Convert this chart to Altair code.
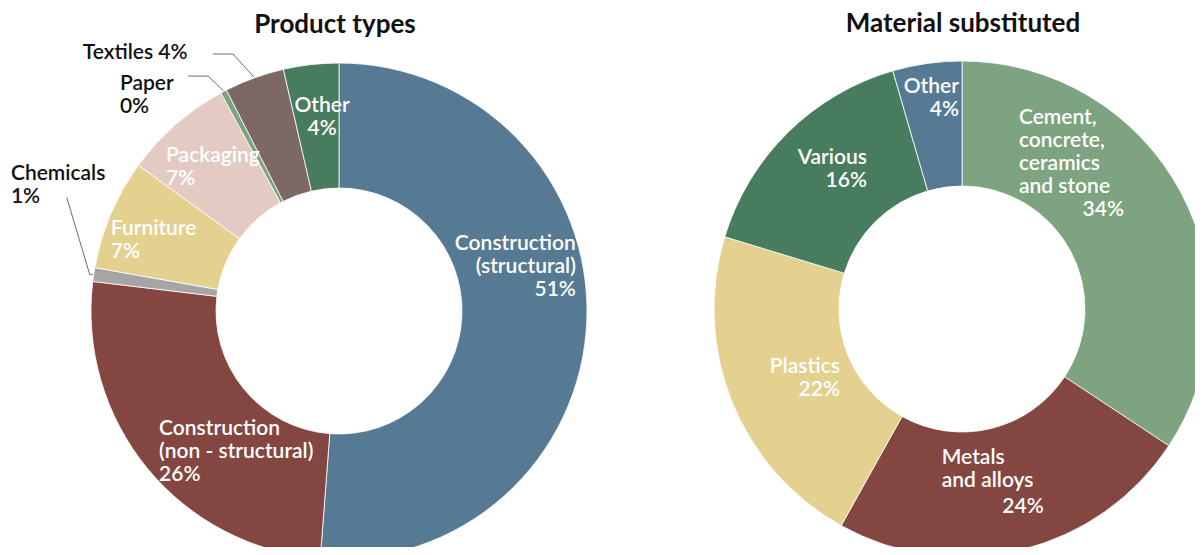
import altair as alt
import pandas as pd

# ---------------- data ----------------
product_keys = ["p0", "p1", "p2", "p3", "p4", "p5", "p6", "p7"]
product_names = ["Construction\n(structural)", "Construction\n(non - structural)", "Chemicals",
                 "Furniture", "Packaging", "Paper", "Textiles", "Other"]
product_values = [51.2, 25.7, 0.9, 7.2, 7.1, 0.4, 3.9, 3.6]
product_pcts = ["51%", "26%", "1%", "7%", "7%", "0%", "4%", "4%"]

material_keys = ["m0", "m1", "m2", "m3", "m4"]
material_names = ["Cement,\nconcrete,\nceramics\nand stone", "Metals\nand alloys", "Plastics", "Various", "Other"]
material_values = [34.3, 23.8, 21.6, 15.8, 4.5]
material_pcts = ["34%", "24%", "22%", "16%", "4%"]

# ---------------- styles ----------------
product_colors = ["#567A93", "#844641", "#A5A5A5", "#E4D08F", "#E3CBC4", "#7EA380", "#7D6865", "#477C5E"]
material_colors = ["#7EA381", "#844641", "#E4D08F", "#477C5E", "#567A93"]

FONT = "Lato"
WHITE = "#FFFFFF"
BLACK = "#111111"
LEADER = "#6B6B6B"
INNER, OUTER = 123, 248
LEFT_C = (331, 303)
RIGHT_C = (954, 301)
LH = 23


def frame(keys, names, values, pcts):
    return pd.DataFrame({
        "key": keys,
        "idx": list(range(len(keys))),
        "value": values,
        "name": names,
        "pct": pcts,
        "label": [n + "\n" + p for n, p in zip(names, pcts)],
        "inline": [n + " " + p for n, p in zip(names, pcts)],
    })


df_p = frame(product_keys, product_names, product_values, product_pcts)
df_m = frame(material_keys, material_names, material_values, material_pcts)


def donut(df, center, colors):
    return alt.Chart(df).mark_arc(
        innerRadius=INNER, outerRadius=OUTER, stroke="white", strokeWidth=0.8
    ).encode(
        theta=alt.Theta("value:Q", stack=True),
        order=alt.Order("idx:Q"),
        color=alt.Color("key:N", scale=alt.Scale(domain=list(df["key"]), range=colors), legend=None),
        x=alt.value(center[0]),
        y=alt.value(center[1]),
    )


def with_mid(df):
    return (
        alt.Chart(df)
        .transform_joinaggregate(total="sum(value)")
        .transform_window(cum="sum(value)", sort=[alt.SortField("idx", order="ascending")], frame=[None, 0])
        .transform_calculate(mid="2*PI*(datum.cum - datum.value/2)/datum.total")
    )


def label(df, center, key, field, r, dx, dy, align, color):
    text = df.loc[df["key"] == key, field].iloc[0]
    dy = dy - text.count("\n") * LH / 2  # centre multi-line blocks
    return (
        with_mid(df)
        .transform_filter(alt.datum.key == key)
        .mark_text(
            radius=r, dx=dx, dy=dy, align=align, baseline="middle", font=FONT,
            fontSize=21, fontWeight=600, lineHeight=LH, color=color, lineBreak="\n",
        )
        .encode(
            theta=alt.Theta("mid:Q", scale=None, stack=None),
            x=alt.value(center[0]),
            y=alt.value(center[1]),
            text=alt.Text(f"{field}:N"),
        )
    )


def leader(df, center, key, r0, ex, ey, hx, hy):
    cx, cy = center
    base = (
        with_mid(df)
        .transform_filter(alt.datum.key == key)
        .transform_calculate(
            x0=f"{cx} + {r0}*sin(datum.mid)",
            y0=f"{cy} - {r0}*cos(datum.mid)",
        )
        .transform_calculate(x1=f"datum.x0 + ({ex})", y1=f"datum.y0 + ({ey})")
        .transform_calculate(x2=f"datum.x1 + ({hx})", y2=f"datum.y1 + ({hy})")
    )
    seg1 = base.mark_rule(color=LEADER, strokeWidth=1).encode(
        x=alt.X("x0:Q", scale=None, axis=None), y=alt.Y("y0:Q", scale=None, axis=None),
        x2="x1:Q", y2="y1:Q",
    )
    seg2 = base.mark_rule(color=LEADER, strokeWidth=1).encode(
        x=alt.X("x1:Q", scale=None, axis=None), y=alt.Y("y1:Q", scale=None, axis=None),
        x2="x2:Q", y2="y2:Q",
    )
    return [seg1, seg2]


def title(text, x, y):
    return alt.Chart(pd.DataFrame({"t": [text]})).mark_text(
        font=FONT, fontSize=26, fontWeight=700, color=BLACK, align="center", baseline="middle"
    ).encode(text="t:N", x=alt.value(x), y=alt.value(y))


layers = [donut(df_p, LEFT_C, product_colors), donut(df_m, RIGHT_C, material_colors)]

layers += leader(df_p, LEFT_C, "p2", 249, -3, 0, -23, -77)
layers += leader(df_p, LEFT_C, "p5", 249, -15, -14.5, -20, 0)
layers += leader(df_p, LEFT_C, "p6", 249, -21, -23, -20, 0)

product_labels = [
    ("p0", "label", 200, 37, -52, "right", WHITE),
    ("p1", "label", 185, -37, 24, "left", WHITE),
    ("p2", "label", 270, -61, -86, "left", BLACK),
    ("p3", "label", 185, -58, 2, "left", WHITE),
    ("p4", "label", 185, -51, -4, "left", WHITE),
    ("p5", "label", 270, -93.5, 24, "left", BLACK),
    ("p6", "inline", 270, -164, -4, "left", BLACK),
    ("p7", "label", 190, 4.5, -5, "center", WHITE),
]
material_labels = [
    ("m0", "name", 185, -106, -69, "left", WHITE),
    ("m0", "pct", 185, -1, -11, "right", WHITE),
    ("m1", "name", 185, -64, -19, "left", WHITE),
    ("m1", "pct", 185, 38, 18, "right", WHITE),
    ("m2", "label", 185, 49.5, 0, "right", WHITE),
    ("m3", "label", 185, 35, -8, "right", WHITE),
    ("m4", "label", 185, 23, -27, "right", WHITE),
]
for spec in product_labels:
    layers.append(label(df_p, LEFT_C, *spec))
for spec in material_labels:
    layers.append(label(df_m, RIGHT_C, *spec))

layers.append(title("Product types", 327, 17))
layers.append(title("Material substituted", 955, 16))

chart = (
    alt.layer(*layers)
    .resolve_scale(color="independent", theta="independent")
    .properties(width=1187, height=539, autosize=alt.AutoSizeParams(type="none"), padding=0)
    .configure_view(stroke=None)
)

chart.save("out.html", embed_options={"renderer": "svg", "actions": False})
